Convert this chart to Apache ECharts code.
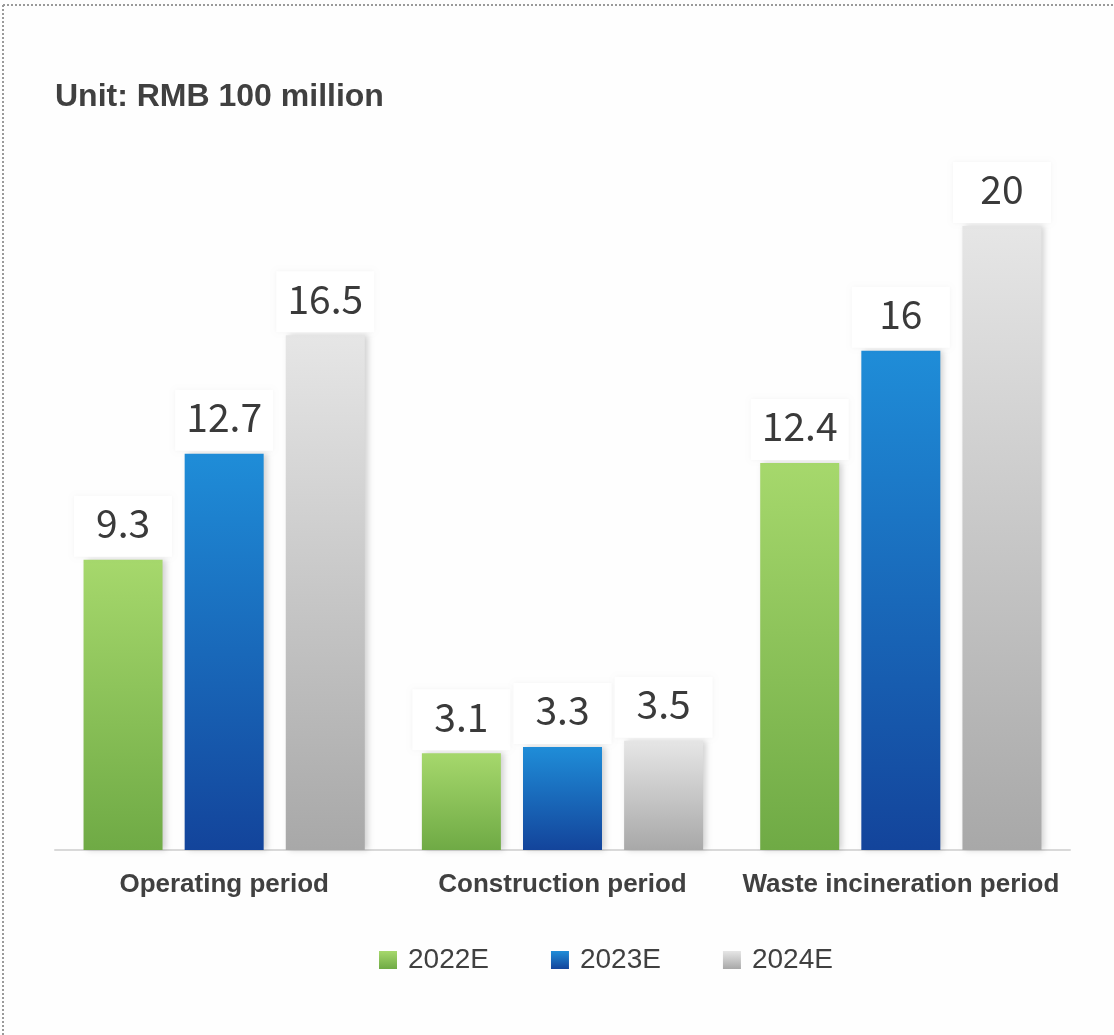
<!DOCTYPE html>
<html><head><meta charset="utf-8">
<script src="https://cdn.jsdelivr.net/npm/echarts@6/dist/echarts.min.js"></script>
<style>html,body{margin:0;padding:0;background:#fff;}#c{width:1114px;height:1035px;}</style>
</head><body><div id="c"></div>
<script>
const categories = ['Operating period', 'Construction period', 'Waste incineration period'];
const seriesNames = ['2022E', '2023E', '2024E'];
const values2022 = [9.3, 3.1, 12.4];
const values2023 = [12.7, 3.3, 16];
const values2024 = [16.5, 3.5, 20];

const grads = [
  ['#a6d86c', '#6faa45'],
  ['#1f8dd8', '#13449b'],
  ['#e6e6e6', '#a8a8a8']
];
function grad(c) {
  return new echarts.graphic.LinearGradient(0, 0, 0, 1, [{offset: 0, color: c[0]}, {offset: 1, color: c[1]}]);
}
const dataSets = [values2022, values2023, values2024];
const chart = echarts.init(document.getElementById('c'));
chart.setOption({
  backgroundColor: '#fefefe',
  animation: false,
  title: {
    text: 'Unit: RMB 100 million', left: 50, top: 76,
    textStyle: {fontFamily: 'Liberation Sans, Arial', fontWeight: 'bold', fontSize: 32, color: '#404040'}
  },
  legend: {
    bottom: 56, left: 374, itemWidth: 18, itemHeight: 18, itemGap: 62,
    textStyle: {fontFamily: 'Liberation Sans, Arial', fontSize: 28, color: '#404040', padding: [0, 0, 0, 6]},
    data: seriesNames.map((n, i) => ({name: n, icon: 'rect', itemStyle: {color: grad(grads[i])}}))
  },
  grid: {left: 55, right: 44, top: 226, bottom: 185},
  xAxis: {
    type: 'category', data: categories,
    axisLine: {lineStyle: {color: '#d9d9d9', width: 2}},
    axisTick: {show: false},
    axisLabel: {interval: 0, margin: 22, fontFamily: 'Liberation Sans, Arial', fontWeight: 'bold', fontSize: 26, color: '#404040'}
  },
  yAxis: {type: 'value', min: 0, max: 20, show: false, splitLine: {show: false}},
  graphic: [
    {type: 'line', shape: {x1: 3, y1: 5, x2: 1114, y2: 5}, style: {stroke: '#9a9a9a', lineWidth: 2, lineDash: [2, 2]}},
    {type: 'line', shape: {x1: 3, y1: 5, x2: 3, y2: 1035}, style: {stroke: '#9a9a9a', lineWidth: 2, lineDash: [2, 2]}}
  ],
  series: seriesNames.map((n, i) => ({
    name: n, type: 'bar', data: dataSets[i],
    barWidth: 79, barGap: '28%',
    itemStyle: {color: grad(grads[i]), shadowColor: 'rgba(0,0,0,0.18)', shadowBlur: 6, shadowOffsetX: 3},
    label: {
      show: true, position: 'top', distance: 3,
      fontFamily: 'Noto Sans CJK SC', fontSize: 39, color: '#3a3a3a',
      backgroundColor: '#ffffff', width: 58, align: 'center', padding: [8, 20, 14, 20],
      shadowColor: 'rgba(0,0,0,0.04)', shadowBlur: 4
    }
  }))
});
</script></body></html>
